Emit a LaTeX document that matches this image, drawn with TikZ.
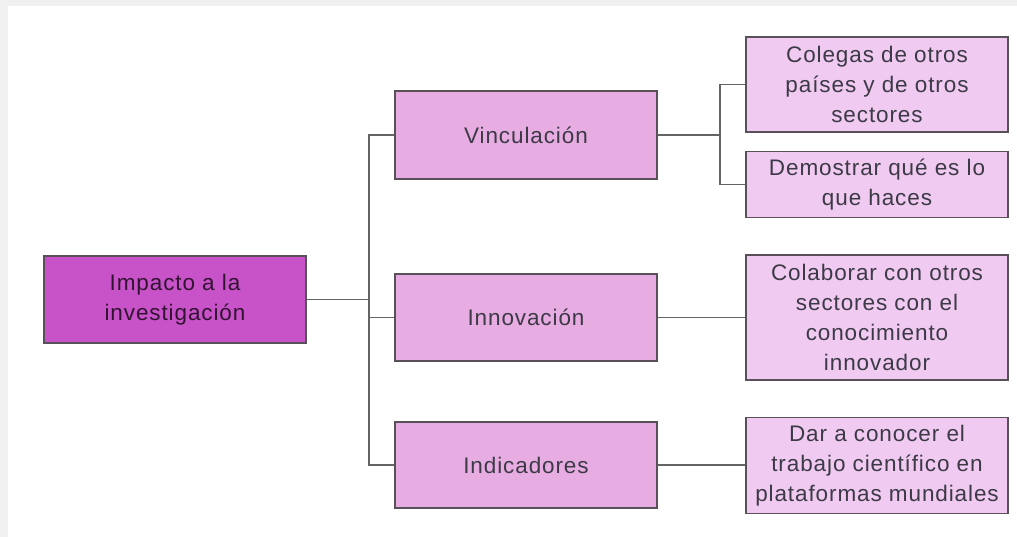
\documentclass[tikz,border=0pt]{standalone}
\usepackage{fontspec}
\setmainfont{Liberation Sans}
\definecolor{rootfill}{RGB}{200,82,200}
\definecolor{midfill}{RGB}{231,172,225}
\definecolor{leaffill}{RGB}{240,202,240}
\definecolor{boxline}{RGB}{90,80,90}
\definecolor{linkline}{RGB}{100,100,100}
\definecolor{txt}{RGB}{60,58,70}
\definecolor{pagegray}{RGB}{240,240,240}
\tikzset{
  box/.style={draw=boxline, line width=1.2pt, minimum width=262pt, inner sep=0pt, align=center, text=txt,
    font=\fontsize{22.5}{30}\selectfont\addfontfeature{LetterSpace=4}},
  rootbox/.style={box, fill=rootfill, text=black!75!rootfill},
  midbox/.style={box, fill=midfill},
  leafbox/.style={box, fill=leaffill},
  link/.style={draw=linkline, line width=1.2pt}
}
\begin{document}
\begin{tikzpicture}[x=1pt,y=-1pt]
\fill[pagegray] (0,0) rectangle (1017,537);
\fill[white] (8,6) rectangle (1017,537);
\useasboundingbox (0,0) rectangle (1017,537);

\node[rootbox, minimum height=87pt] (root) at (175,299.5) {Impacto a la\\investigación};
\node[midbox, minimum height=88pt] (vin) at (526,135) {Vinculación};
\node[midbox, minimum height=87pt] (inn) at (526,317.5) {Innovación};
\node[midbox, minimum height=86pt] (ind) at (526,465) {Indicadores};
\node[leafbox, minimum height=95pt] (col) at (877,84.5) {Colegas de otros\\países y de otros\\sectores};
\node[leafbox, minimum height=66pt] (dem) at (877,184.5) {Demostrar qué es lo\\que haces};
\node[leafbox, minimum height=125pt] (cola) at (877,317.5) {Colaborar con otros\\sectores con el\\conocimiento\\innovador};
\node[leafbox, minimum height=96pt] (dar) at (877,465.5) {Dar a conocer el\\trabajo científico en\\plataformas mundiales};

\coordinate (t1) at (369,0);
\coordinate (t2) at (720,0);
\draw[link] (root.east) -- (root.east -| t1);
\draw[link] (vin.west) -- (vin.west -| t1) -- (ind.west -| t1) -- (ind.west);
\draw[link] (inn.west) -- (inn.west -| t1);
\draw[link] (vin.east) -- (vin.east -| t2);
\draw[link] (col.west) -- (col.west -| t2) -- (dem.west -| t2) -- (dem.west);
\draw[link] (inn.east) -- (cola.west);
\draw[link] (ind.east) -- (ind.east -| dar.west);
\end{tikzpicture}
\end{document}
